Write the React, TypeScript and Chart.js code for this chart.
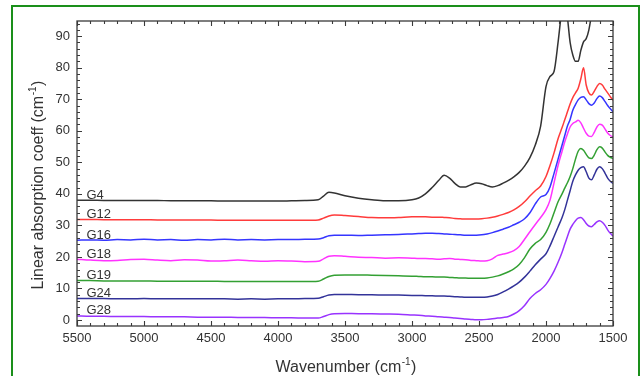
import React, { useEffect, useRef } from "react";
import { Chart, registerables } from "chart.js";

Chart.register(...registerables);

// ---- Data ----
const wavenumbers = [
  5500, 5400, 5300, 5200, 5100, 5000, 4900, 4800, 4700, 4600, 4500, 4400, 4300, 4200, 4100, 4000, 3900, 3800,
  3700, 3660, 3620, 3580, 3500, 3400, 3300, 3200, 3100, 3000, 2950, 2900, 2850, 2800, 2760, 2720, 2680, 2640,
  2600, 2560, 2520, 2480, 2440, 2400, 2360, 2320, 2280, 2240, 2200, 2160, 2120, 2080, 2040, 2000, 1970, 1940,
  1910, 1880, 1860, 1840, 1820, 1800, 1780, 1760, 1740, 1720, 1700, 1680, 1660, 1640, 1620, 1600, 1580, 1560,
  1540, 1520, 1500,
];

const g4 = [
  38.0, 38.0, 37.9, 37.9, 37.9, 37.9, 37.9, 37.8, 37.8, 37.8, 37.8, 37.7, 37.7, 37.7, 37.7, 37.7, 37.8, 37.9,
  38.1, 39.3, 40.5, 40.3, 39.4, 38.6, 38.1, 37.8, 37.8, 38.1, 38.7, 40.0, 42.0, 44.3, 45.9, 45.0, 43.3, 42.2,
  42.2, 42.9, 43.4, 43.2, 42.6, 42.2, 42.6, 43.4, 44.3, 45.4, 46.8, 48.8, 51.5, 55.5, 61.5, 74.0, 77.2, 78.8,
  88.0, 99.0, 103.0, 96.0, 88.0, 84.0, 82.0, 82.0, 85.5, 88.2, 89.2, 92.0, 97.0, 103.0, 108.0, 112.0, 115.0, 117.0,
  118.0, 119.0, 120.0,
];

const g12 = [
  31.9, 31.9, 31.8, 31.8, 31.8, 31.8, 31.7, 31.7, 31.7, 31.7, 31.7, 31.6, 31.6, 31.6, 31.6, 31.6, 31.6, 31.6,
  31.7, 32.3, 33.0, 33.3, 33.1, 32.8, 32.5, 32.4, 32.5, 32.7, 32.7, 32.7, 32.6, 32.6, 32.5, 32.4, 32.2, 32.1,
  32.0, 32.0, 32.0, 32.1, 32.3, 32.6, 33.0, 33.5, 34.1, 34.9, 36.0, 37.5, 39.3, 41.0, 42.5, 45.5, 49.0, 53.0,
  57.5, 61.0, 63.5, 66.0, 68.5, 70.5, 72.0, 73.5, 76.5, 80.0, 74.5, 72.0, 71.3, 72.5, 74.0, 75.0, 74.5, 73.2,
  72.0, 70.8, 69.7,
];

const g16 = [
  25.3, 25.4, 25.3, 25.5, 25.4, 25.6, 25.4, 25.5, 25.3, 25.5, 25.4, 25.6, 25.4, 25.5, 25.4, 25.5, 25.5, 25.6,
  25.7, 26.1, 26.7, 26.9, 26.9, 26.8, 26.9, 27.0, 27.1, 27.3, 27.4, 27.5, 27.5, 27.4, 27.3, 27.2, 27.1, 27.0,
  26.9, 26.9, 26.9, 27.0, 27.3, 27.7, 28.2, 28.8, 29.4, 30.2, 31.0, 32.1, 34.0, 36.8, 39.0, 39.8, 42.2, 46.5,
  51.0, 55.5, 58.5, 61.5, 63.6, 66.5, 68.3, 69.8, 70.6, 70.8, 69.8, 68.6, 68.1, 68.8, 70.2, 71.0, 70.5, 69.3,
  68.0, 67.0, 66.0,
];

const g18 = [
  19.3, 19.0, 18.8, 18.9, 19.2, 19.3, 19.0, 18.8, 19.1, 19.0, 18.7, 18.8, 19.0, 18.8, 18.6, 18.8, 18.7, 18.5,
  18.6, 19.4, 20.2, 20.4, 20.2, 19.9, 19.8, 19.6, 19.7, 19.6, 19.5, 19.5, 19.4, 19.3, 19.4, 19.5, 19.3, 19.2,
  19.1, 18.9, 18.8, 18.7, 18.8, 19.4, 20.5, 20.9, 21.3, 22.0, 23.3, 25.6, 28.0, 30.3, 32.5, 35.0, 38.0, 43.5,
  49.0, 53.5, 56.5, 59.0, 61.2, 62.3, 62.8, 63.3, 62.5, 60.8, 59.2, 58.3, 58.2, 59.5, 61.2, 62.1, 61.8, 60.6,
  59.3, 58.5, 58.1,
];

const g19 = [
  12.5, 12.5, 12.4, 12.4, 12.4, 12.4, 12.3, 12.3, 12.3, 12.3, 12.3, 12.2, 12.2, 12.2, 12.2, 12.2, 12.2, 12.2,
  12.3, 13.0, 13.8, 14.2, 14.3, 14.3, 14.2, 14.1, 14.0, 13.9, 13.8, 13.7, 13.7, 13.6, 13.6, 13.5, 13.4, 13.3,
  13.3, 13.2, 13.2, 13.2, 13.3, 13.6, 14.0, 14.6, 15.3, 16.2, 17.6, 19.8, 22.5, 24.3, 25.5, 27.8, 30.5, 34.0,
  37.5, 40.0, 41.8, 43.5, 45.5, 48.0, 51.0, 53.5, 54.4, 53.8, 52.5, 51.4, 51.2, 52.3, 54.0, 54.9, 54.5, 53.3,
  52.2, 51.6, 51.2,
];

const g24 = [
  6.8, 6.8, 6.8, 6.7, 6.7, 6.8, 6.7, 6.7, 6.7, 6.7, 6.7, 6.7, 6.6, 6.7, 6.6, 6.7, 6.7, 6.8,
  6.9, 7.4, 7.9, 8.1, 8.1, 8.0, 8.0, 7.9, 7.9, 7.8, 7.8, 7.7, 7.7, 7.6, 7.6, 7.5, 7.4, 7.3,
  7.2, 7.2, 7.2, 7.2, 7.3, 7.6, 8.1, 8.9, 9.8, 10.8, 12.0, 13.6, 15.5, 17.5, 19.3, 21.0, 23.5, 26.5,
  29.5, 32.5, 35.0, 38.0, 41.0, 44.0, 46.0, 47.5, 48.3, 48.6, 47.0, 45.0, 44.5, 46.0, 47.8, 48.6, 48.0, 46.6,
  45.0, 44.0, 43.3,
];

const g28 = [
  1.3, 1.2, 1.2, 1.1, 1.1, 1.1, 1.0, 1.0, 1.0, 0.9, 0.9, 0.9, 0.8, 0.8, 0.8, 0.7, 0.7, 0.6,
  0.6, 1.1, 1.7, 2.0, 2.1, 2.0, 2.0, 1.9, 1.8, 1.6, 1.5, 1.3, 1.2, 1.0, 0.9, 0.8, 0.6, 0.5,
  0.3, 0.2, 0.1, 0.1, 0.2, 0.4, 0.6, 0.8, 1.1, 1.9, 3.0, 4.6, 6.8, 8.4, 9.6, 11.3, 13.2, 15.5,
  18.3, 21.5, 24.0, 26.5, 28.8, 30.3, 31.5, 32.3, 32.5, 31.8, 30.6, 29.8, 29.6, 30.3, 31.1, 31.5, 31.0, 30.0,
  28.6, 27.5, 26.6,
];

const seriesNames = ["G4", "G12", "G16", "G18", "G19", "G24", "G28"];
const seriesValues = [g4, g12, g16, g18, g19, g24, g28];
const seriesColors = ["#333333", "#ff3b3b", "#3535ff", "#ff33ff", "#33a033", "#333399", "#9933ff"];

const xTickValues = [1500, 2000, 2500, 3000, 3500, 4000, 4500, 5000, 5500];
const yTickValues = [0, 10, 20, 30, 40, 50, 60, 70, 80, 90];

const X_MIN = 1500;
const X_MAX = 5500;
const Y_MIN = -1.9;
const Y_MAX = 94.8;
const LABEL_X = 5430;

const FONT = '"Liberation Sans", Arial, Helvetica, sans-serif';
const TEXT = "#333333";

function drawSupText(
  ctx: CanvasRenderingContext2D,
  cx: number,
  y: number,
  main: string,
  sup: string,
  tail: string,
  size: number
) {
  const supSize = Math.round(size * 0.62);
  ctx.font = `${size}px ${FONT}`;
  const w1 = ctx.measureText(main).width;
  const w3 = ctx.measureText(tail).width;
  ctx.font = `${supSize}px ${FONT}`;
  const w2 = ctx.measureText(sup).width;
  const total = w1 + w2 + w3 + 1;
  let x = cx - total / 2;
  ctx.textAlign = "left";
  ctx.textBaseline = "alphabetic";
  ctx.font = `${size}px ${FONT}`;
  ctx.fillText(main, x, y);
  x += w1;
  ctx.font = `${supSize}px ${FONT}`;
  ctx.fillText(sup, x + 0.5, y - size * 0.42);
  x += w2 + 1;
  ctx.font = `${size}px ${FONT}`;
  ctx.fillText(tail, x, y);
}

const framePlugin = {
  id: "frameAndLabels",
  afterDatasetsDraw(chart: any) {
    const { ctx, chartArea } = chart;
    const { left, right, top, bottom } = chartArea;
    const xs = chart.scales.x;
    const ys = chart.scales.y;
    ctx.save();

    // series labels
    ctx.font = `13px ${FONT}`;
    ctx.fillStyle = TEXT;
    ctx.textAlign = "left";
    ctx.textBaseline = "alphabetic";
    chart.data.datasets.forEach((ds: any) => {
      const v = ds.data[0].y;
      ctx.fillText(ds.label, xs.getPixelForValue(LABEL_X), ys.getPixelForValue(v) - 1.5);
    });

    // frame
    ctx.strokeStyle = "#3a3a3a";
    ctx.lineWidth = 1.3;
    ctx.strokeRect(left, top, right - left, bottom - top);

    // ticks (inward, all four sides)
    ctx.lineWidth = 1.1;
    ctx.beginPath();
    for (let v = X_MIN; v <= X_MAX; v += 100) {
      const px = Math.round(xs.getPixelForValue(v)) + 0.5;
      const len = v % 500 === 0 ? 5 : 3;
      ctx.moveTo(px, bottom);
      ctx.lineTo(px, bottom - len);
      ctx.moveTo(px, top);
      ctx.lineTo(px, top + len);
    }
    for (let v = 0; v <= Y_MAX; v += 2) {
      const py = Math.round(ys.getPixelForValue(v)) + 0.5;
      const len = v % 10 === 0 ? 5 : 3;
      ctx.moveTo(left, py);
      ctx.lineTo(left + len, py);
      ctx.moveTo(right, py);
      ctx.lineTo(right - len, py);
    }
    ctx.stroke();

    // axis titles
    ctx.fillStyle = TEXT;
    drawSupText(ctx, (left + right) / 2 + 1, 372, "Wavenumber (cm", "-1", ")", 16);
    ctx.save();
    ctx.translate(43, 185);
    ctx.rotate(-Math.PI / 2);
    drawSupText(ctx, 0, 0, "Linear absorption coeff (cm", "-1", ")", 16);
    ctx.restore();

    ctx.restore();
  },
};

export default function App() {
  const ref = useRef<HTMLCanvasElement>(null);

  useEffect(() => {
    const canvas = ref.current;
    if (!canvas) return;
    const datasets = seriesNames.map((name, i) => ({
      label: name,
      data: wavenumbers.map((w, j) => ({ x: w, y: seriesValues[i][j] })),
      borderColor: seriesColors[i],
      backgroundColor: seriesColors[i],
      borderWidth: 1.5,
      pointRadius: 0,
      fill: false,
      cubicInterpolationMode: "monotone" as const,
    }));

    const chart = new Chart(canvas, {
      type: "line",
      data: { datasets },
      options: {
        animation: false,
        responsive: false,
        maintainAspectRatio: false,
        devicePixelRatio: 1,
        layout: { padding: { left: 0, right: 30, top: 21, bottom: 0 } },
        plugins: {
          legend: { display: false },
          tooltip: { enabled: false },
          title: { display: false },
        },
        scales: {
          x: {
            type: "linear",
            reverse: true,
            min: X_MIN,
            max: X_MAX,
            grid: { display: false, drawTicks: false },
            border: { display: false },
            afterBuildTicks: (scale: any) => {
              scale.ticks = xTickValues.map((v) => ({ value: v }));
            },
            afterFit: (scale: any) => {
              scale.height = 50;
            },
            ticks: {
              autoSkip: false,
              maxRotation: 0,
              minRotation: 0,
              padding: 5,
              color: TEXT,
              font: { family: FONT, size: 13 },
              callback: (v: any) => String(v),
            },
          },
          y: {
            type: "linear",
            min: Y_MIN,
            max: Y_MAX,
            grid: { display: false, drawTicks: false },
            border: { display: false },
            afterBuildTicks: (scale: any) => {
              scale.ticks = yTickValues.map((v) => ({ value: v }));
            },
            afterFit: (scale: any) => {
              scale.width = 77;
            },
            ticks: {
              autoSkip: false,
              padding: 7,
              color: TEXT,
              font: { family: FONT, size: 13 },
              callback: (v: any) => String(v),
            },
          },
        },
      },
      plugins: [framePlugin],
    });
    return () => chart.destroy();
  }, []);

  return (
    <div
      style={{
        position: "fixed",
        left: 0,
        top: 0,
        width: 643,
        height: 376,
        background: "#ffffff",
        overflow: "hidden",
      }}
    >
      <canvas
        ref={ref}
        width={643}
        height={376}
        style={{ position: "absolute", left: 0, top: 0, width: 643, height: 376 }}
      />
      <div
        style={{
          position: "absolute",
          left: 11,
          top: 5,
          width: 629,
          height: 420,
          border: "2px solid #1a8f1a",
          boxSizing: "border-box",
          pointerEvents: "none",
        }}
      />
    </div>
  );
}
